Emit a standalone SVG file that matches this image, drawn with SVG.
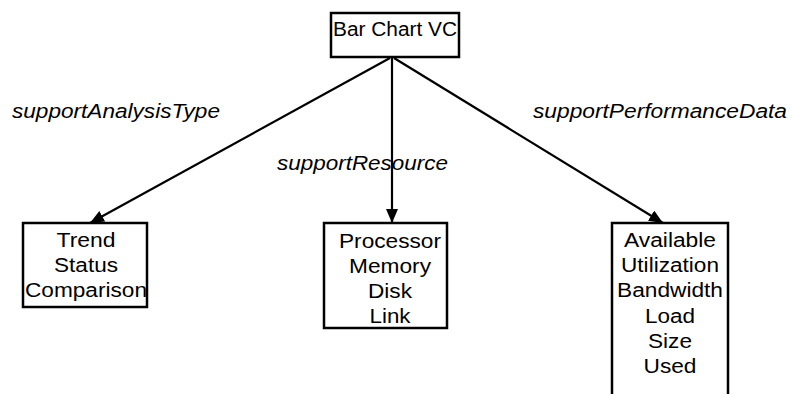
<svg xmlns="http://www.w3.org/2000/svg" width="791" height="394" viewBox="0 0 791 394">
<style>
.box{fill:#fff;stroke:#000;stroke-width:2.5}
.nt{font-family:"Liberation Sans",Arial,sans-serif;font-size:20px;fill:#000;text-anchor:middle}
.lb{font-family:"Liberation Sans",Arial,sans-serif;font-size:19.5px;font-style:italic;fill:#000}
.edge{stroke:#000;stroke-width:2.2;fill:none}
</style>
<defs>
<marker id="arr" viewBox="0 0 14 12" refX="14" refY="6" markerWidth="14" markerHeight="12" markerUnits="userSpaceOnUse" orient="auto">
<path d="M0,0 L14,6 L0,12 Z" fill="#000"/>
</marker>
</defs>
<rect width="791" height="394" fill="#fff"/>
<g id="connectors">
<line class="edge" x1="390" y1="58" x2="90" y2="223" marker-end="url(#arr)"/>
<line class="edge" x1="392" y1="58" x2="392" y2="223" marker-end="url(#arr)"/>
<line class="edge" x1="394" y1="58" x2="663" y2="223" marker-end="url(#arr)"/>
<text class="lb" x="12" y="118" textLength="208" lengthAdjust="spacingAndGlyphs">supportAnalysisType</text>
<text class="lb" x="277" y="170" textLength="171" lengthAdjust="spacingAndGlyphs">supportResource</text>
<text class="lb" x="533" y="118" textLength="254" lengthAdjust="spacingAndGlyphs">supportPerformanceData</text>
</g>
<g id="barchart">
<rect class="box" x="331" y="13" width="128" height="44"/>
<text class="nt" x="395" y="36" textLength="124" lengthAdjust="spacingAndGlyphs">Bar Chart VC</text>
</g>
<g id="analysisType">
<rect class="box" x="23" y="223" width="124" height="84"/>
<text class="nt" x="86" y="247" textLength="59" lengthAdjust="spacingAndGlyphs">Trend</text>
<text class="nt" x="86" y="272" textLength="64" lengthAdjust="spacingAndGlyphs">Status</text>
<text class="nt" x="86" y="297" textLength="122" lengthAdjust="spacingAndGlyphs">Comparison</text>
</g>
<g id="resource">
<rect class="box" x="324" y="223" width="123" height="105"/>
<text class="nt" x="390" y="248" textLength="102" lengthAdjust="spacingAndGlyphs">Processor</text>
<text class="nt" x="390" y="273" textLength="82" lengthAdjust="spacingAndGlyphs">Memory</text>
<text class="nt" x="390" y="298" textLength="44" lengthAdjust="spacingAndGlyphs">Disk</text>
<text class="nt" x="390" y="323" textLength="41" lengthAdjust="spacingAndGlyphs">Link</text>
</g>
<g id="performanceData">
<path class="box" d="M612,396 L612,223 L728,223 L728,396"/>
<text class="nt" x="670" y="247" textLength="92" lengthAdjust="spacingAndGlyphs">Available</text>
<text class="nt" x="670" y="272" textLength="98" lengthAdjust="spacingAndGlyphs">Utilization</text>
<text class="nt" x="670" y="297" textLength="106" lengthAdjust="spacingAndGlyphs">Bandwidth</text>
<text class="nt" x="670" y="323" textLength="50" lengthAdjust="spacingAndGlyphs">Load</text>
<text class="nt" x="670" y="348" textLength="44" lengthAdjust="spacingAndGlyphs">Size</text>
<text class="nt" x="670" y="373" textLength="53" lengthAdjust="spacingAndGlyphs">Used</text>
</g>
</svg>
